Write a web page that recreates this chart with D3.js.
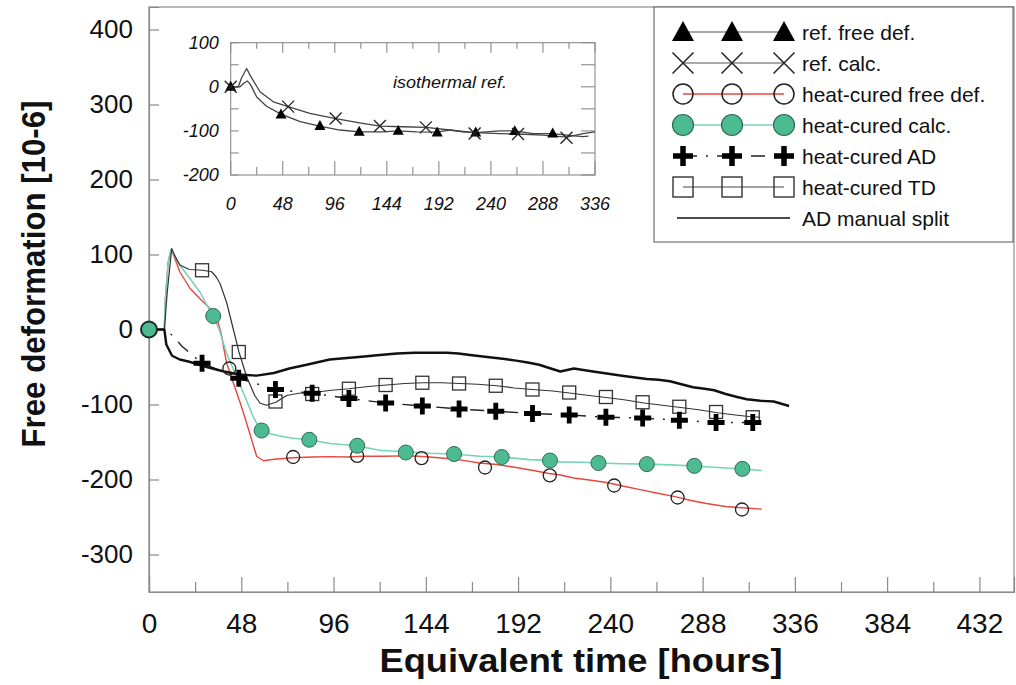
<!DOCTYPE html>
<html><head><meta charset="utf-8">
<script src="https://cdn.jsdelivr.net/npm/d3@7"></script>
<style>
html,body{margin:0;padding:0;background:#fff;}
svg{display:block;font-family:"Liberation Sans",Arial,sans-serif;}
</style></head>
<body>
<svg id="chart" width="1016" height="685"></svg>
<script>
// ---------------- DATA ----------------
const xTicksMain = [0,48,96,144,192,240,288,336,384,432];
const xMinorMain = [24,72,120,168,216,264,312,360,408];
const yTicksMain = [400,300,200,100,0,-100,-200,-300];
const xTicksInset = [0,48,96,144,192,240,288,336];
const xMinorInset = [24,72,120,168,216,264,312];
const yTicksInset = [100,0,-100,-200];
const yMinorInset = [50,-50,-150];

// AD manual split (thick line)
const adSplitLine = [[0,0],[8,0],[9,-20],[12,-35],[16,-40],[21,-43],[30,-50],[39,-56],[47,-60],[56,-61.5],
 [65,-58],[73,-52],[82,-47],[94,-40],[103,-38],[112,-36],[120,-34],[129,-32],[138,-31],[146,-31],
 [155,-31],[161,-32],[167,-34],[177,-37],[184,-39],[191,-41.5],[197,-44],[203,-47],[209,-52],[214,-56],
 [221,-52],[226,-54],[231,-56],[239,-59],[247,-62],[253,-64],[259,-66],[265,-67],[271,-69],[277,-73],
 [283,-77],[289,-79],[294,-81],[300,-86],[306,-90],[311,-93],[318,-95],[325,-96],[329,-99],[333,-102]];

// heat-cured TD
const tdLine = [[0,0],[8,0],[9.5,50],[11.8,108],[13.5,98],[16,86],[21,80],[27.8,79],[32.6,77],[35,70],[37,61],
 [40.5,35],[46.8,-30],[50.8,-63],[55,-88],[57.7,-98],[61,-101],[66,-97],[71.6,-88],[78,-85],[85.5,-84],
 [95,-81],[104,-79],[114,-76],[123.6,-74],[133,-72],[142.7,-71],[152,-71],[161.8,-72],[171,-73],[180.9,-75],
 [190,-78],[199.6,-80],[210,-82],[219.8,-85],[229,-88],[238.9,-91],[248,-94],[257.5,-98],[267,-101],
 [276.6,-104],[286,-107],[295.7,-111],[305,-114],[312,-116],[318,-117]];
const markT = [27.6,46.7,65.8,84.9,104.0,123.1,142.2,161.3,180.4,199.5,218.6,237.7,256.8,275.9,295.0,314.1];
const tdV = [79,-30,-96,-86,-79,-74,-71,-72,-75,-80,-84,-90,-97,-103,-110,-117];

// heat-cured AD
const adLine = [[0,0],[8,0],[12.7,-9],[17,-22],[22,-33],[27.6,-45],[46.7,-65],[65.8,-80],[84.9,-85],[104,-92],
 [123.1,-98],[142.2,-102],[161.3,-106],[180.4,-109],[199.5,-112],[218.6,-114],[237.7,-117],[256.8,-118],
 [275.9,-121],[295,-124],[314.1,-124]];
const adV = [-45,-65,-80,-85,-92,-98,-102,-106,-109,-112,-114,-117,-118,-121,-124,-124];

// heat-cured free deformation (red)
const fdLine = [[0,0],[8,0],[8.5,40],[10,90],[11.4,106],[13,98],[16,77],[21.3,55],[26.5,41],[31.7,28],[35.2,16],
 [37.5,-5],[40.4,-45],[44,-72],[48,-102],[52,-135],[56,-169],[59.5,-175],[65,-173],[75,-171],[85,-170],
 [94,-169.5],[103,-170],[111.5,-169],[122,-169],[132,-168.5],[140,-169],[146,-170],[155,-172],[163.5,-174.5],
 [172,-178],[180.9,-180],[191,-184],[200,-188],[208,-192],[214,-194],[221,-198],[230,-201],[238,-204],
 [247,-209],[255.5,-213.5],[264,-218],[273,-222.5],[282,-228],[290,-232],[300,-236],[310,-238],[318.8,-239.5]];
const fdT = [0,41.8,75,108.3,141.8,174.8,208.5,242,275,308.5];
const fdV = [0,-52,-170,-168.5,-171.5,-184,-194.5,-208,-224,-240];

// heat-cured calc (teal)
const calcLine = [[0,0],[8,0],[8.5,40],[10,90],[11.4,106],[13,100],[16,86],[21.3,68],[26.5,50],[30,33],[33.4,18],
 [36.5,0],[40.4,-32],[45.6,-63],[50,-90],[54,-115],[56,-125],[58.6,-134],[63,-139],[68,-142],[75,-145],
 [83.4,-147],[94,-152],[108,-155],[120,-161],[133.6,-163],[146,-165],[158.7,-166],[172,-169],[183.5,-170],
 [198,-173.5],[208.6,-174.5],[214,-176.5],[225,-177],[233.8,-178],[246,-179],[259,-179.5],[271,-180.5],
 [283.7,-182],[296,-184],[308.7,-186],[318.8,-188]];
const calcT = [0,33.4,58.6,83.4,108.3,133.6,158.7,183.5,208.6,233.8,259,283.7,308.7];
const calcV = [0,18,-134.7,-147,-155,-164,-166,-170,-174.7,-178,-179.5,-181.8,-185.8];

// inset: isothermal reference
const refFdLine = [[0,0],[8.6,0],[12,8],[15.3,13],[18,6],[24,-23],[33,-44],[46.4,-62],[64,-79],[82,-89],[100.7,-98],
 [118.5,-102],[140.7,-102],[154.5,-100],[171.4,-102],[190,-103],[202,-98],[214,-102],[226,-104],[248,-100],
 [262,-100],[279,-106],[297,-106],[312,-110],[325,-113],[330,-112]];
const refFdT = [0,46.4,82.3,118.5,154.5,190.4,226,262,297];
const refFdV = [0,-62.7,-89,-102,-100,-103.5,-103.5,-100.5,-106];
const refCalcLine = [[0,0],[7,0],[10,20],[14.7,41.6],[17.8,26.5],[27,-11.3],[39.3,-34],[53,-45],[73,-60.5],
 [96.8,-72],[119,-81.6],[137.6,-89],[159,-90.6],[180,-92],[202,-98],[225,-104],[248,-106],[265,-107],
 [288,-109.5],[310,-114],[325,-106],[336,-102]];
const refCalcT = [0,53,96.8,137.6,180,225,265,309.7];
const refCalcV = [0,-45,-71.7,-89,-92,-105.8,-107,-115.6];

const legendLabels = ["ref. free def.","ref. calc.","heat-cured free def.","heat-cured calc.","heat-cured AD","heat-cured TD","AD manual split"];

// ---------------- DRAW ----------------
const svg = d3.select("#chart");
const AX = "#8a8a8a";
const RED = "#e8473d", TEAL = "#74d4b9", GREEN = "#4dbb92", GREEN_S = "#2f6b55";
const fmt = d => String(d);

const x = d3.scaleLinear().domain([0,450]).range([149,1014]);
const y = d3.scaleLinear().domain([-350,430]).range([592,7]);

// frame
svg.append("rect").attr("x",x(0)).attr("y",y(430)).attr("width",x(450)-x(0)).attr("height",y(-350)-y(430))
  .attr("fill","none").attr("stroke",AX).attr("stroke-width",1.2);

// y axis
const gy = svg.append("g").attr("transform",`translate(${x(0)},0)`)
  .call(d3.axisLeft(y).tickValues(yTicksMain).tickSize(-10).tickPadding(16).tickFormat(fmt));
gy.select(".domain").attr("stroke",AX).attr("stroke-width",1.2);
gy.selectAll(".tick line").attr("stroke",AX).attr("stroke-width",1.2);
gy.selectAll(".tick text").attr("font-size",26).attr("fill","#111").attr("font-family","Liberation Sans, Arial, sans-serif");

// x axis
const gx = svg.append("g").attr("transform",`translate(0,${y(-350)})`)
  .call(d3.axisBottom(x).tickValues(xTicksMain).tickSize(-15).tickPadding(21).tickFormat(fmt));
gx.select(".domain").attr("stroke",AX).attr("stroke-width",1.2);
gx.selectAll(".tick line").attr("stroke",AX).attr("stroke-width",1.2);
gx.selectAll(".tick text").attr("font-size",28).attr("fill","#111").attr("font-family","Liberation Sans, Arial, sans-serif");
const gxm = svg.append("g").attr("transform",`translate(0,${y(-350)})`)
  .call(d3.axisBottom(x).tickValues(xMinorMain).tickSize(-10).tickFormat(""));
gxm.select(".domain").remove();
gxm.selectAll(".tick line").attr("stroke",AX).attr("stroke-width",1.2);

// axis titles
svg.append("text").attr("transform",`translate(45,274) rotate(-90)`).attr("text-anchor","middle")
  .attr("font-weight","bold").attr("font-size",33).attr("fill","#111")
  .attr("textLength",347).attr("lengthAdjust","spacingAndGlyphs").text("Free deformation [10-6]");
svg.append("text").attr("x",581).attr("y",672).attr("text-anchor","middle")
  .attr("font-weight","bold").attr("font-size",33).attr("fill","#111")
  .attr("textLength",403).attr("lengthAdjust","spacingAndGlyphs").text("Equivalent time [hours]");

// marker helpers
function triPath(cx,cy,w){const h=w*0.9;return `M${cx},${cy-h*0.6}L${cx+w/2},${cy+h*0.4}L${cx-w/2},${cy+h*0.4}Z`;}
function crossPath(cx,cy,s){const a=s/2;return `M${cx-a},${cy-a}L${cx+a},${cy+a}M${cx-a},${cy+a}L${cx+a},${cy-a}`;}
function plusPath(cx,cy,s,t){const a=s/2,b=t/2;return `M${cx-a},${cy-b}H${cx-b}V${cy-a}H${cx+b}V${cy-b}H${cx+a}V${cy+b}H${cx+b}V${cy+a}H${cx-b}V${cy+b}H${cx-a}Z`;}

function drawLine(g,data,xs,ys,stroke,w,dash){
  g.append("path").datum(data).attr("fill","none").attr("stroke",stroke).attr("stroke-width",w)
   .attr("stroke-linejoin","round").attr("stroke-dasharray",dash||null)
   .attr("d",d3.line().x(d=>xs(d[0])).y(d=>ys(d[1])));
}

// ---- main plot lines ----
const gm = svg.append("g");
drawLine(gm,fdLine,x,y,RED,1.4);
drawLine(gm,calcLine,x,y,TEAL,1.6);
drawLine(gm,tdLine,x,y,"#333",1.2);
drawLine(gm,adLine,x,y,"#222",1.4,"14,9,2,9");
drawLine(gm,adSplitLine,x,y,"#111",2.4);

// ---- main plot markers ----
gm.selectAll(".sq").data(markT.map((t,i)=>[t,tdV[i]])).join("rect")
  .attr("x",d=>x(d[0])-6.5).attr("y",d=>y(d[1])-6.5).attr("width",13).attr("height",13)
  .attr("fill","none").attr("stroke","#333").attr("stroke-width",1.3);
gm.selectAll(".pl").data(markT.map((t,i)=>[t,adV[i]])).join("path")
  .attr("d",d=>plusPath(x(d[0]),y(d[1]),17,4.8)).attr("fill","#000");
gm.selectAll(".oc").data(fdT.map((t,i)=>[t,fdV[i]]).slice(1)).join("circle")
  .attr("cx",d=>x(d[0])).attr("cy",d=>y(d[1])).attr("r",6.5)
  .attr("fill","none").attr("stroke","#222").attr("stroke-width",1.3);
gm.selectAll(".gc").data(calcT.map((t,i)=>[t,calcV[i]])).join("circle")
  .attr("cx",d=>x(d[0])).attr("cy",d=>y(d[1])).attr("r",d=>d[0]===0?8:7.5)
  .attr("fill",GREEN).attr("stroke",d=>d[0]===0?"#1f2a25":GREEN_S).attr("stroke-width",d=>d[0]===0?2:1);

// ---- inset ----
const xi = d3.scaleLinear().domain([0,336]).range([230.7,595]);
const yi = d3.scaleLinear().domain([-200,100]).range([175,42.7]);
const gi = svg.append("g");
gi.append("rect").attr("x",xi(0)).attr("y",yi(100)).attr("width",xi(336)-xi(0)).attr("height",yi(-200)-yi(100))
  .attr("fill","#fff").attr("stroke",AX).attr("stroke-width",1.1);
[[xTicksInset,14,10],[xMinorInset,8,6]].forEach(([vals,lb,lt])=>{
  gi.selectAll(null).data(vals).join("line").attr("x1",d=>xi(d)).attr("x2",d=>xi(d))
    .attr("y1",yi(-200)).attr("y2",yi(-200)-lb).attr("stroke",AX).attr("stroke-width",1.1);
  gi.selectAll(null).data(vals).join("line").attr("x1",d=>xi(d)).attr("x2",d=>xi(d))
    .attr("y1",yi(100)).attr("y2",yi(100)+lt).attr("stroke",AX).attr("stroke-width",1.1);
});
const yAllInset = yTicksInset.concat(yMinorInset);
gi.selectAll(null).data(yAllInset).join("line").attr("x1",xi(0)).attr("x2",xi(0)+8)
  .attr("y1",d=>yi(d)).attr("y2",d=>yi(d)).attr("stroke",AX).attr("stroke-width",1.1);
gi.selectAll(null).data(yAllInset).join("line").attr("x1",xi(336)).attr("x2",xi(336)-14)
  .attr("y1",d=>yi(d)).attr("y2",d=>yi(d)).attr("stroke",AX).attr("stroke-width",1.1);
gi.selectAll(null).data(yTicksInset).join("text").attr("x",xi(0)-12).attr("y",d=>yi(d)).attr("dy","0.35em")
  .attr("text-anchor","end").attr("font-style","italic").attr("font-size",18).attr("fill","#111").text(fmt);
gi.selectAll(null).data(xTicksInset).join("text").attr("x",d=>xi(d)).attr("y",210)
  .attr("text-anchor","middle").attr("font-style","italic").attr("font-size",18).attr("fill","#111").text(fmt);
gi.append("text").attr("x",393).attr("y",88).attr("font-style","italic").attr("font-size",16)
  .attr("fill","#111").attr("textLength",114).attr("lengthAdjust","spacingAndGlyphs").text("isothermal ref.");
drawLine(gi,refCalcLine,xi,yi,"#444",1.3);
drawLine(gi,refFdLine,xi,yi,"#444",1.3);
gi.selectAll(".tri").data(refFdT.map((t,i)=>[t,refFdV[i]])).join("path")
  .attr("d",d=>triPath(xi(d[0]),yi(d[1]),11)).attr("fill","#000");
gi.selectAll(".x").data(refCalcT.map((t,i)=>[t,refCalcV[i]])).join("path")
  .attr("d",d=>crossPath(xi(d[0]),yi(d[1]),12)).attr("fill","none").attr("stroke","#222").attr("stroke-width",1.3);

// ---- legend ----
const gl = svg.append("g");
gl.append("rect").attr("x",654).attr("y",7).attr("width",359).attr("height",235)
  .attr("fill","#fff").attr("stroke","#666").attr("stroke-width",1.1);
const lx = [683,732,784];
const rowY = i => 32 + i*31;
legendLabels.forEach((lab,i)=>{
  const cy = rowY(i);
  const g = gl.append("g");
  const seg = (stroke,w,dash,x1,x2)=>g.append("line").attr("x1",x1).attr("x2",x2).attr("y1",cy).attr("y2",cy)
      .attr("stroke",stroke).attr("stroke-width",w).attr("stroke-dasharray",dash||null);
  if(i===0){ seg("#555",1.2,null,683,784); lx.forEach(cx=>g.append("path").attr("d",triPath(cx,cy+1,22)).attr("fill","#000")); }
  if(i===1){ seg("#555",1.2,null,683,784); lx.forEach(cx=>g.append("path").attr("d",crossPath(cx,cy,21)).attr("fill","none").attr("stroke","#222").attr("stroke-width",1.5)); }
  if(i===2){ seg(RED,1.3,null,683,784); lx.forEach(cx=>g.append("circle").attr("cx",cx).attr("cy",cy).attr("r",10).attr("fill","none").attr("stroke","#222").attr("stroke-width",1.5)); }
  if(i===3){ seg(TEAL,1.5,null,683,784); lx.forEach(cx=>g.append("circle").attr("cx",cx).attr("cy",cy).attr("r",10.5).attr("fill",GREEN).attr("stroke",GREEN_S).attr("stroke-width",1.2)); }
  if(i===4){ seg("#222",1.4,"14,9,2,9",683,784); lx.forEach(cx=>g.append("path").attr("d",plusPath(cx,cy,20,5.5)).attr("fill","#000")); }
  if(i===5){ seg("#444",1.2,null,683,784); lx.forEach(cx=>g.append("rect").attr("x",cx-10).attr("y",cy-10).attr("width",20).attr("height",20).attr("fill","none").attr("stroke","#333").attr("stroke-width",1.4)); }
  if(i===6){ seg("#111",1.6,null,677,790); }
  g.append("text").attr("x",802).attr("y",cy).attr("dy","0.36em").attr("font-size",21).attr("fill","#111").text(lab);
});
</script>
</body></html>
